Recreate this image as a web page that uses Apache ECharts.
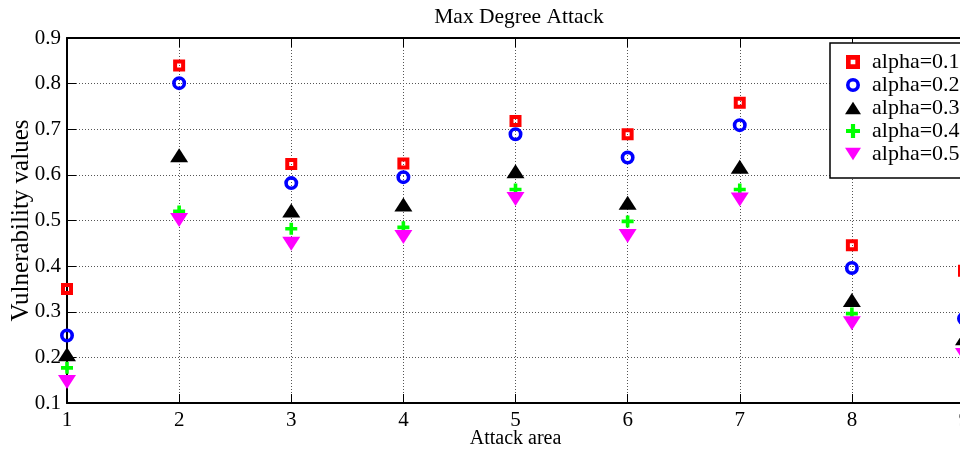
<!DOCTYPE html>
<html>
<head>
<meta charset="utf-8">
<script src="https://cdn.jsdelivr.net/npm/echarts@6/dist/echarts.min.js"></script>
<style>
  html, body { margin: 0; padding: 0; background: #fff; }
  #chart { width: 960px; height: 454px; }
</style>
</head>
<body>
<div id="chart"></div>
<script>
// Attack areas on the x axis
var areas = [1, 2, 3, 4, 5, 6, 7, 8, 9];

// Vulnerability values per alpha setting
var alpha01 = [0.35, 0.84, 0.624, 0.625, 0.718, 0.689, 0.758, 0.446, 0.39];
var alpha02 = [0.248, 0.801, 0.582, 0.595, 0.689, 0.638, 0.709, 0.396, 0.285];
var alpha03 = [0.207, 0.643, 0.522, 0.535, 0.608, 0.539, 0.618, 0.326, 0.242];
var alpha04 = [0.177, 0.52, 0.482, 0.485, 0.568, 0.498, 0.568, 0.296, 0.215];
var alpha05 = [0.146, 0.501, 0.449, 0.464, 0.547, 0.466, 0.546, 0.275, 0.205];

var seriesNames = ['alpha=0.1', 'alpha=0.2', 'alpha=0.3', 'alpha=0.4', 'alpha=0.5'];

var yTicks = [0.1, 0.2, 0.3, 0.4, 0.5, 0.6, 0.7, 0.8, 0.9];

var FONT = '"Liberation Serif", "Times New Roman", serif';

function pairs(vals) {
  return areas.map(function (a, i) { return [a, vals[i]]; });
}

var gridLine = { show: true, lineStyle: { color: '#555', type: [1, 2], width: 1 } };

// Thick-edged marker shapes (inner contours wound the other way leave a small hole)
var squarePath = 'path://M0,0H12V12H0Z M4,4V8H8V4Z';
var ringPath = 'path://M7,0A7,7 0 1 1 7,14A7,7 0 1 1 7,0Z M7,3.6A3.4,3.4 0 1 0 7,10.4A3.4,3.4 0 1 0 7,3.6Z';
var upPath = 'path://M9,0L18,14H0Z';
var downPath = 'path://M0,0H18L9,14Z';
var plusPath = 'path://M3.5,0H6.5V3.5H10V6.5H6.5V10H3.5V6.5H0V3.5H3.5Z';

var chart = echarts.init(document.getElementById('chart'), null, { renderer: 'canvas' });

chart.setOption({
  backgroundColor: '#fff',
  animation: false,
  title: {
    text: 'Max Degree Attack',
    left: 514,
    textAlign: 'center',
    top: 1,
    textStyle: { fontFamily: FONT, fontSize: 21.5, fontWeight: 'normal', color: '#000' }
  },
  grid: { left: 67, top: 38, width: 897, height: 365, containLabel: false, outerBoundsMode: 'none' },
  legend: {
    orient: 'vertical',
    left: 830,
    top: 43,
    padding: [8, 12, 13, 15],
    itemGap: 1,
    itemWidth: 16,
    itemHeight: 14,
    backgroundColor: '#fff',
    borderColor: '#000',
    borderWidth: 1.5,
    borderRadius: 0,
    textStyle: { fontFamily: FONT, fontSize: 22, color: '#000', lineHeight: 20, padding: [0, 0, 0, 6] },
    data: seriesNames
  },
  xAxis: [{
    type: 'value',
    min: 1, max: 9, interval: 1,
    name: 'Attack area',
    nameLocation: 'middle',
    nameGap: 26,
    nameMoveOverlap: false,
    nameTextStyle: { fontFamily: FONT, fontSize: 20, color: '#000' },
    axisLine: { show: true, onZero: false, lineStyle: { color: '#000', width: 2 } },
    axisTick: { show: true, inside: true, length: 9, lineStyle: { color: '#000', width: 1 } },
    axisLabel: { fontFamily: FONT, fontSize: 21, color: '#000', margin: 7 },
    splitLine: gridLine
  }, {
    type: 'value',
    position: 'top',
    min: 1, max: 9, interval: 1,
    axisLine: { show: true, onZero: false, lineStyle: { color: '#000', width: 2 } },
    axisTick: { show: true, inside: true, length: 9, lineStyle: { color: '#000', width: 1 } },
    axisLabel: { show: false },
    splitLine: { show: false }
  }],
  yAxis: [{
    type: 'value',
    min: 0.1, max: 0.9, interval: 0.1,
    name: 'Vulnerability values',
    nameLocation: 'middle',
    nameGap: 33,
    nameMoveOverlap: false,
    nameTextStyle: { fontFamily: FONT, fontSize: 25, color: '#000' },
    axisLine: { show: true, onZero: false, lineStyle: { color: '#000', width: 2 } },
    axisTick: { show: true, inside: true, length: 9, lineStyle: { color: '#000', width: 1 } },
    axisLabel: {
      fontFamily: FONT, fontSize: 21, color: '#000', margin: 6,
      formatter: function (v) {
        var t = yTicks.find(function (k) { return Math.abs(k - v) < 1e-6; });
        return t !== undefined ? String(t) : '';
      }
    },
    splitLine: gridLine
  }],
  series: [{
    name: seriesNames[0],
    type: 'scatter',
    data: pairs(alpha01),
    symbol: squarePath,
    symbolSize: 12,
    itemStyle: { color: '#ff0000', opacity: 1 },
    z: 5
  }, {
    name: seriesNames[1],
    type: 'scatter',
    data: pairs(alpha02),
    symbol: ringPath,
    symbolSize: 14,
    itemStyle: { color: '#0000ff', opacity: 1 },
    z: 5
  }, {
    name: seriesNames[2],
    type: 'scatter',
    data: pairs(alpha03),
    symbol: upPath,
    symbolSize: [18, 14],
    itemStyle: { color: '#000000', opacity: 1 },
    z: 5
  }, {
    name: seriesNames[3],
    type: 'scatter',
    data: pairs(alpha04),
    symbol: plusPath,
    symbolSize: 12,
    itemStyle: { color: '#00ff00', opacity: 1 },
    z: 5
  }, {
    name: seriesNames[4],
    type: 'scatter',
    data: pairs(alpha05),
    symbol: downPath,
    symbolSize: [18, 14],
    itemStyle: { color: '#ff00ff', opacity: 1 },
    z: 6
  }]
});
</script>
</body>
</html>
